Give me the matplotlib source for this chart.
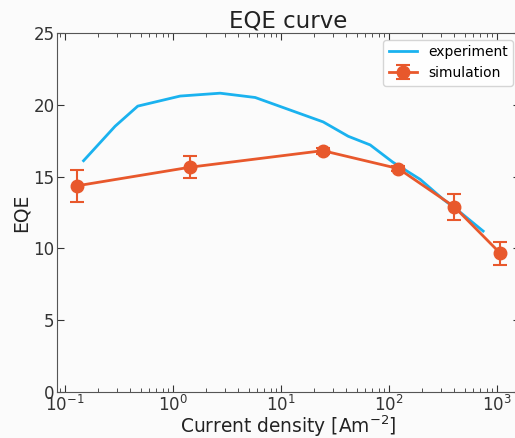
import numpy as np
import matplotlib.pyplot as plt

# experiment curve
exp_j = [0.148, 0.29, 0.47, 1.16, 2.72, 5.75, 24.5, 41.8, 66.7, 108, 194, 318, 457, 742]
exp_eqe = [16.1, 18.5, 19.9, 20.6, 20.8, 20.5, 18.8, 17.8, 17.2, 16.0, 14.8, 13.4, 12.5, 11.2]

# simulation points with error bars
sim_j = [0.128, 1.44, 24.3, 122, 400, 1070]
sim_eqe = [14.35, 15.65, 16.8, 15.55, 12.9, 9.65]
sim_err = [1.1, 0.75, 0.2, 0.2, 0.9, 0.78]

fig = plt.figure(figsize=(5.15, 4.38), dpi=100)
fig.patch.set_facecolor('#fbfbfb')
# right spine sits just past the picture edge, like in the original crop
ax = fig.add_axes([0.111, 0.105, 0.899, 0.82])
ax.set_facecolor('#fbfbfb')

ax.plot(exp_j, exp_eqe, color='#1ab2ef', lw=2, label='experiment')
ax.errorbar(sim_j, sim_eqe, yerr=sim_err, color='#e8582c', lw=2, marker='o',
            markersize=9, capsize=5, elinewidth=1.5, capthick=1.5, label='simulation')

ax.set_xscale('log')
ax.set_xlim(0.0843, 1633)
ax.set_ylim(0, 25)
ax.set_yticks([0, 5, 10, 15, 20, 25])
ax.tick_params(which='both', direction='in', top=True, right=True, labelsize=12,
               colors='#333333', pad=2)
ax.tick_params(which='major', length=5)
ax.tick_params(which='minor', length=3)
for s in ax.spines.values():
    s.set_color('#555555')

ax.set_title('EQE curve', fontsize=16.5, pad=2, color='#222222')
ax.set_xlabel('Current density [Am$^{-2}$]', fontsize=13.4, labelpad=-1, color='#222222')
ax.set_ylabel('EQE', fontsize=13.5, labelpad=2, color='#222222')
ax.legend(loc='upper right', fontsize=10)

fig.savefig('out.png', dpi=100, facecolor=fig.get_facecolor())
